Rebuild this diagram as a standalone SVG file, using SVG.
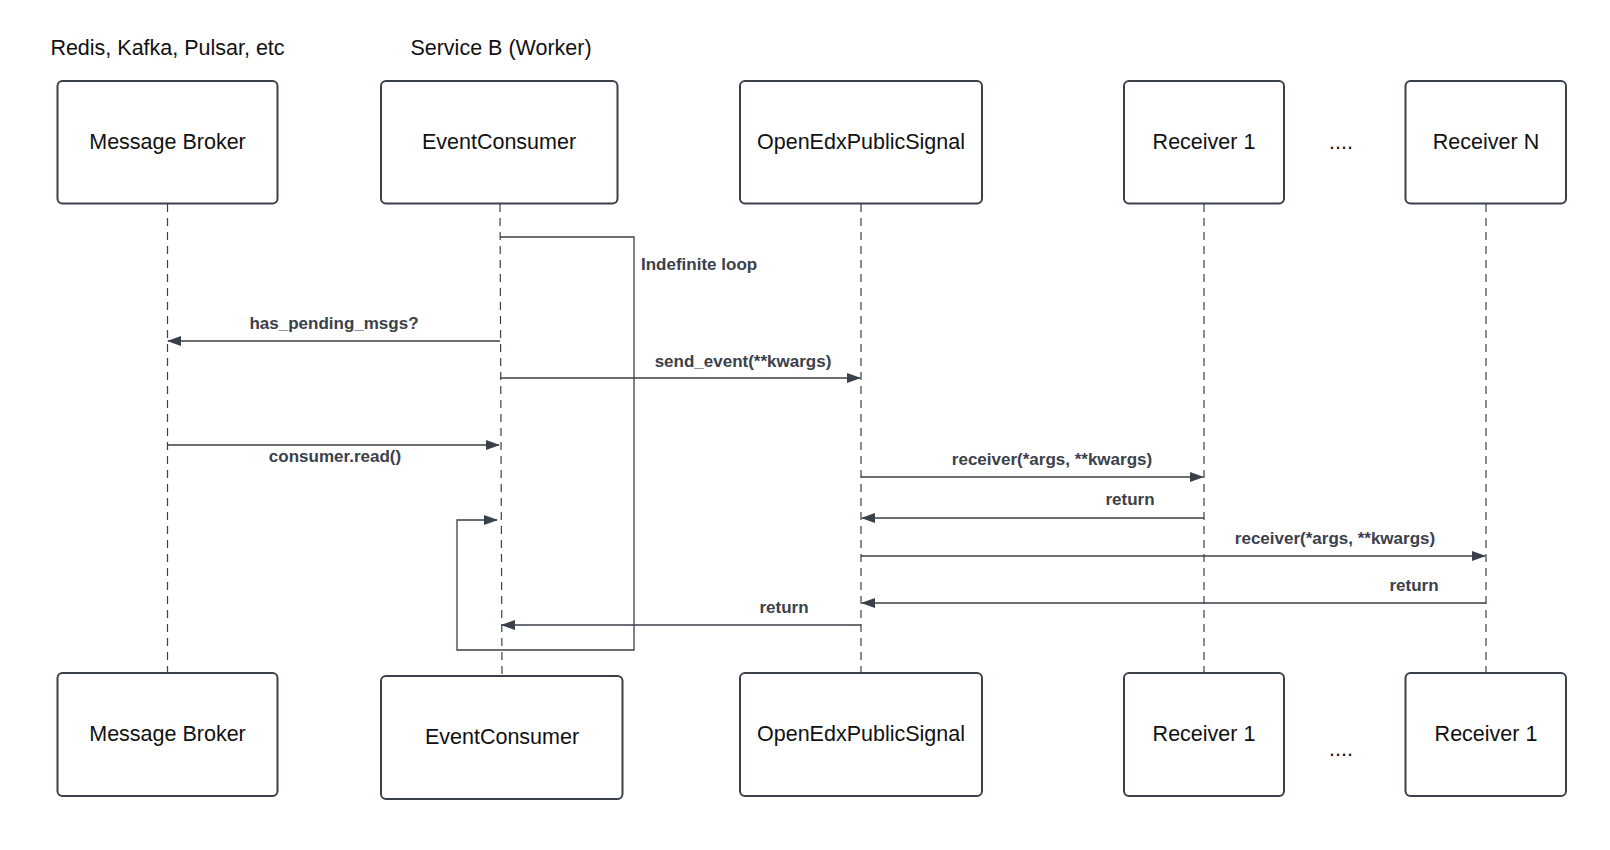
<svg xmlns="http://www.w3.org/2000/svg" width="1610" height="850" viewBox="0 0 1610 850">
<style>
.box{fill:#fff;stroke:#3a414a;stroke-width:2}
.t{font-family:"Liberation Sans",Arial,sans-serif;font-size:21.5px;fill:#111;text-anchor:middle}
.l{font-family:"Liberation Sans",Arial,sans-serif;font-size:17px;font-weight:bold;fill:#3a414a;text-anchor:middle}
.life{stroke:#3a414a;stroke-width:1.2;stroke-dasharray:8,6;fill:none}
.m{stroke:#3a414a;stroke-width:1.3;fill:none}
</style>
<defs><marker id="a" markerWidth="14" markerHeight="10" refX="13" refY="5" orient="auto" markerUnits="userSpaceOnUse"><path d="M0,0L14,5L0,10z" fill="#3a414a"/></marker></defs>
<rect width="1610" height="850" fill="#fff"/>
<text class="t" x="167.5" y="55">Redis, Kafka, Pulsar, etc</text>
<text class="t" x="501" y="55">Service B (Worker)</text>
<g id="lifelines">
<line class="life" x1="167.5" y1="204" x2="167.5" y2="673"/>
<line class="life" x1="500" y1="204" x2="502" y2="676"/>
<line class="life" x1="861" y1="204" x2="861" y2="673"/>
<line class="life" x1="1204" y1="204" x2="1204" y2="673"/>
<line class="life" x1="1486" y1="204" x2="1486" y2="673"/>
</g>
<g id="n1"><rect class="box" x="57.5" y="81" width="220" height="122.5" rx="5"/><text class="t" x="167.5" y="149">Message Broker</text></g>
<g id="n2"><rect class="box" x="381" y="81" width="236.5" height="122.5" rx="5"/><text class="t" x="499" y="149">EventConsumer</text></g>
<g id="n3"><rect class="box" x="740" y="81" width="242" height="122.5" rx="5"/><text class="t" x="861" y="149">OpenEdxPublicSignal</text></g>
<g id="n4"><rect class="box" x="1124" y="81" width="160" height="122.5" rx="5"/><text class="t" x="1204" y="149">Receiver 1</text></g>
<g id="n5"><rect class="box" x="1405.5" y="81" width="160.5" height="122.5" rx="5"/><text class="t" x="1486" y="149">Receiver N</text></g>
<text class="t" x="1341" y="149">....</text>
<g id="n6"><rect class="box" x="57.5" y="673" width="220" height="123" rx="5"/><text class="t" x="167.5" y="741">Message Broker</text></g>
<g id="n7"><rect class="box" x="381" y="676" width="241.5" height="123" rx="5"/><text class="t" x="502" y="744">EventConsumer</text></g>
<g id="n8"><rect class="box" x="740" y="673" width="242" height="123" rx="5"/><text class="t" x="861" y="741">OpenEdxPublicSignal</text></g>
<g id="n9"><rect class="box" x="1124" y="673" width="160" height="123" rx="5"/><text class="t" x="1204" y="741">Receiver 1</text></g>
<g id="n10"><rect class="box" x="1405.5" y="673" width="160.5" height="123" rx="5"/><text class="t" x="1486" y="741">Receiver 1</text></g>
<text class="t" x="1341" y="756">....</text>
<g id="connectors">
<path class="m" d="M500,237H634V650H457V520H497" marker-end="url(#a)"/>
<text class="l" x="641" y="270" style="text-anchor:start">Indefinite loop</text>
<line class="m" x1="500" y1="341" x2="168" y2="341" marker-end="url(#a)"/>
<text class="l" x="334" y="329">has_pending_msgs?</text>
<line class="m" x1="500" y1="378" x2="860" y2="378" marker-end="url(#a)"/>
<text class="l" x="743" y="367">send_event(**kwargs)</text>
<line class="m" x1="167.5" y1="445" x2="499" y2="445" marker-end="url(#a)"/>
<text class="l" x="335" y="462">consumer.read()</text>
<line class="m" x1="861" y1="477" x2="1203" y2="477" marker-end="url(#a)"/>
<text class="l" x="1052" y="465">receiver(*args, **kwargs)</text>
<line class="m" x1="1204" y1="518" x2="862" y2="518" marker-end="url(#a)"/>
<text class="l" x="1130" y="505">return</text>
<line class="m" x1="861" y1="556" x2="1485" y2="556" marker-end="url(#a)"/>
<text class="l" x="1335" y="544">receiver(*args, **kwargs)</text>
<line class="m" x1="1486" y1="603" x2="862" y2="603" marker-end="url(#a)"/>
<text class="l" x="1414" y="591">return</text>
<line class="m" x1="861" y1="625" x2="502" y2="625" marker-end="url(#a)"/>
<text class="l" x="784" y="613">return</text>
</g>
</svg>
